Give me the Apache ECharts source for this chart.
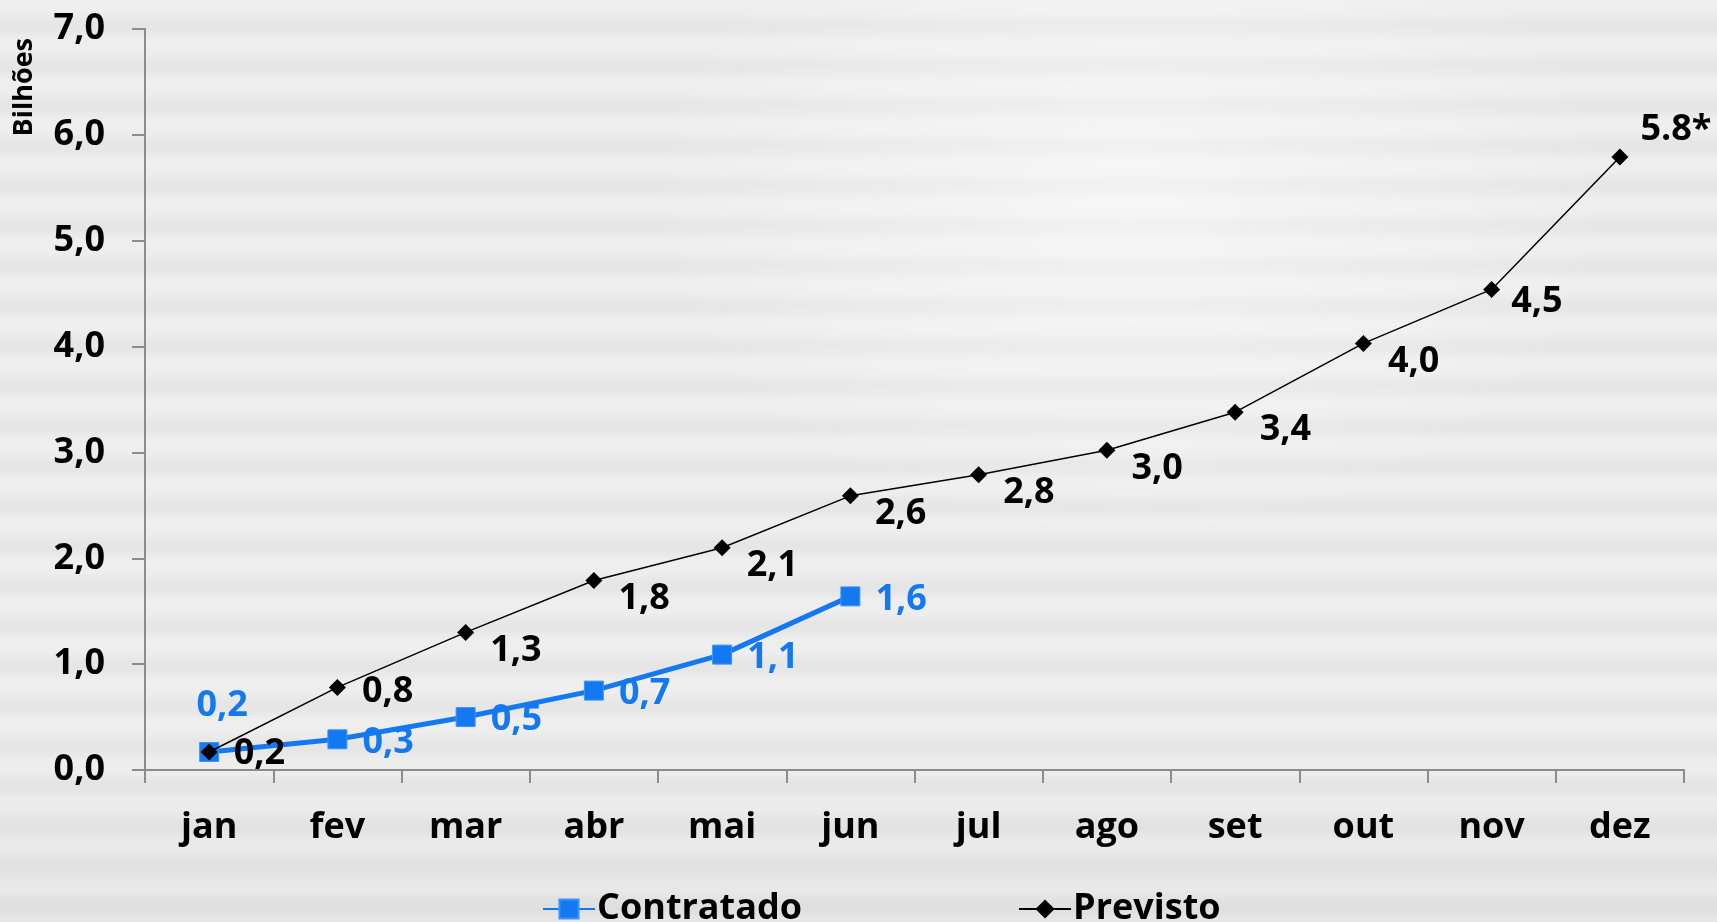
<!DOCTYPE html>
<html>
<head>
<meta charset="utf-8">
<title>Contratado x Previsto</title>
<script src="https://cdn.jsdelivr.net/npm/echarts@6/dist/echarts.min.js"></script>
<style>
    html, body { margin: 0; padding: 0; }
    body {
        width: 1717px; height: 922px; overflow: hidden;
        background:
            radial-gradient(ellipse 700px 500px at 1130px 200px, rgba(255,255,255,0.5), rgba(255,255,255,0) 70%),
            linear-gradient(to bottom, rgba(0,0,0,0) 80%, rgba(0,0,0,0.03) 100%),
            repeating-linear-gradient(to bottom, #eeeeee 0px, #eeeeee 12px, #e6e6e6 22px, #e6e6e6 30px, #eeeeee 40px);
    }
    #chart { width: 1717px; height: 922px; }
</style>
</head>
<body>
<div id="chart"></div>
<script>
// ============================================
// Contratado x Previsto (Bilhões)
// ============================================

const months = ['jan', 'fev', 'mar', 'abr', 'mai', 'jun', 'jul', 'ago', 'set', 'out', 'nov', 'dez'];
const contratado = [0.17, 0.29, 0.50, 0.75, 1.09, 1.64];
const contratadoLabels = ['0,2', '0,3', '0,5', '0,7', '1,1', '1,6'];
const previsto = [0.17, 0.78, 1.30, 1.79, 2.10, 2.59, 2.79, 3.02, 3.38, 4.03, 4.54, 5.79];
const previstoLabels = ['0,2', '0,8', '1,3', '1,8', '2,1', '2,6', '2,8', '3,0', '3,4', '4,0', '4,5', '5.8*'];

const blue = '#1479f0';
const font = "'Open Sans', 'DejaVu Sans', sans-serif";
const axisGray = '#8c8c8c';

const chart = echarts.init(document.getElementById('chart'), null, { renderer: 'canvas' });

const labelBase = { show: true, fontFamily: font, fontWeight: 'bold', fontSize: 36 };

const contratadoData = contratado.map((v, i) => {
    const item = { value: v, label: { formatter: contratadoLabels[i] } };
    if (i === 0) {
        item.label.position = 'top';
        item.label.distance = 18;
        item.label.offset = [13, 0];
    }
    return item;
});

const previstoOffsets = { 0: [0, 2], 1: [0, 4], 10: [-5, 12], 11: [-4, -27] };
const previstoData = previsto.map((v, i) => ({
    value: v,
    label: { formatter: previstoLabels[i], offset: previstoOffsets[i] || [0, 18] }
}));

const option = {
    animation: false,
    backgroundColor: 'transparent',
    grid: { left: 145, right: 33, top: 29, bottom: 152, containLabel: false },
    legend: {
        left: 537,
        top: 886,
        itemWidth: 52,
        itemHeight: 24,
        itemGap: 216,
        textStyle: { fontFamily: font, fontWeight: 'bold', fontSize: 36, color: '#000', padding: [0, 0, 0, -3] },
        data: ['Contratado', 'Previsto']
    },
    graphic: [{
        type: 'text',
        left: 11,
        top: 38,
        rotation: Math.PI / 2,
        style: { text: 'Bilhões', fontFamily: font, fontWeight: 'bold', fontSize: 27, fill: '#000' }
    }],
    xAxis: {
        type: 'category',
        data: months,
        boundaryGap: true,
        axisLine: { show: true, lineStyle: { color: axisGray, width: 2 } },
        axisTick: { show: true, length: 13, lineStyle: { color: axisGray, width: 2 } },
        axisLabel: { color: '#000', fontFamily: font, fontWeight: 'bold', fontSize: 36, margin: 40 },
        splitLine: { show: false }
    },
    yAxis: {
        type: 'value',
        min: 0,
        max: 7,
        interval: 1,
        axisLine: { show: true, lineStyle: { color: axisGray, width: 2 } },
        axisTick: { show: true, length: 13, lineStyle: { color: axisGray, width: 2 } },
        axisLabel: {
            color: '#000', fontFamily: font, fontWeight: 'bold', fontSize: 36, margin: 40,
            formatter: v => v.toFixed(1).replace('.', ',')
        },
        splitLine: { show: false }
    },
    series: [
        {
            name: 'Contratado',
            type: 'line',
            data: contratadoData,
            symbol: 'rect',
            symbolSize: 19,
            itemStyle: { color: blue, borderColor: '#3d95f7', borderWidth: 1 },
            lineStyle: { color: blue, width: 5 },
            label: Object.assign({}, labelBase, { color: blue, position: 'right', distance: 15, offset: [0, 3] }),
            z: 2
        },
        {
            name: 'Previsto',
            type: 'line',
            data: previstoData,
            symbol: 'diamond',
            symbolSize: 17,
            itemStyle: { color: '#000' },
            lineStyle: { color: '#000', width: 1.5 },
            label: Object.assign({}, labelBase, { color: '#000', position: 'right', distance: 16 }),
            z: 3
        }
    ]
};

chart.setOption(option);
</script>
</body>
</html>
